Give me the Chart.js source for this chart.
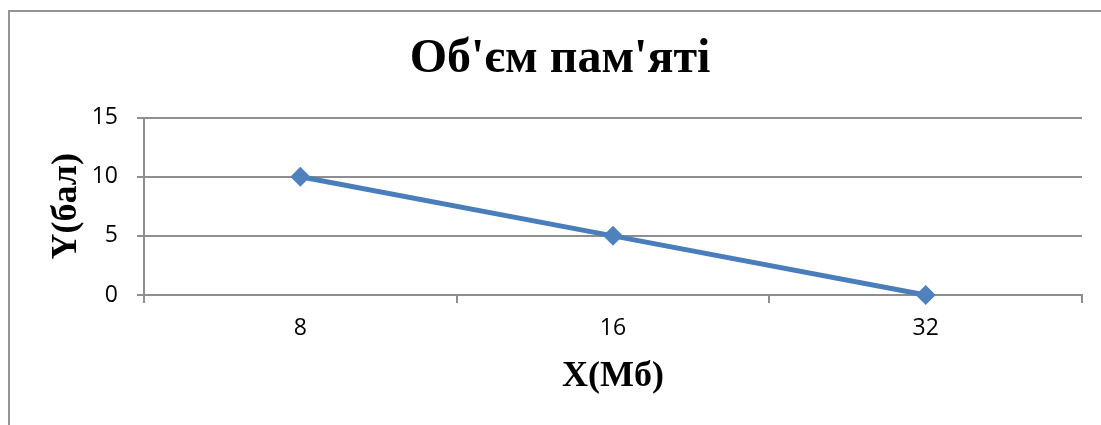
<!DOCTYPE html>
<html>
<head>
<meta charset="utf-8">
<script src="https://cdn.jsdelivr.net/npm/chart.js@4"></script>
<style>
  body { margin: 0; background: #fff; overflow: hidden; }
  #frame { position: absolute; left: 8px; top: 10px; width: 1200px; height: 500px;
           border-left: 2px solid #949494; border-top: 2px solid #949494; }
  #wrap { position: absolute; left: 0; top: 0; width: 1101px; height: 425px; }
</style>
</head>
<body>
<div id="frame"></div>
<div id="wrap"><canvas id="chart" width="1101" height="425"></canvas></div>
<script>
// chart data
const categories = ['8', '16', '32'];
const memoryScore = [10, 5, 0];
const yMin = 0;
const yMax = 15;
const yStep = 5;

const titleText = "Об'єм пам'яті";
const xTitle = 'X(Мб)';
const yTitle = 'Y(бал)';

document.addEventListener("DOMContentLoaded", function () {
    const ctx = document.getElementById('chart').getContext('2d');
    const gridColor = '#8e8e8e';
    const tickFont = { family: '"Open Sans", sans-serif', size: 23 };
    const serif = '"Liberation Serif", "Times New Roman", serif';

    new Chart(ctx, {
        type: 'line',
        data: {
            labels: categories,
            datasets: [{
                data: memoryScore,
                borderColor: '#4a7ebb',
                backgroundColor: '#4f81bd',
                borderWidth: 5,
                pointStyle: 'rectRot',
                pointRadius: 10,
                pointBorderWidth: 0,
                clip: false,
                tension: 0
            }]
        },
        options: {
            responsive: false,
            animation: false,
            // left padding only shifts the title centre to where the reference has it
            layout: { padding: { left: 38, right: 19, top: 0, bottom: 0 } },
            plugins: {
                legend: { display: false },
                tooltip: { enabled: false },
                title: {
                    display: true,
                    text: titleText,
                    color: '#000',
                    font: { family: serif, size: 48, weight: 'bold' },
                    padding: { top: 31, bottom: 29 }
                }
            },
            scales: {
                x: {
                    offset: true,
                    grid: { offset: true, drawOnChartArea: false, tickLength: 8, color: gridColor, lineWidth: 2 },
                    border: { color: gridColor, width: 2 },
                    ticks: { color: '#000', font: tickFont, padding: 12, maxRotation: 0 },
                    title: {
                        display: true,
                        text: xTitle,
                        color: '#000',
                        font: { family: serif, size: 36, weight: 'bold' },
                        padding: { top: 0, bottom: 27 }
                    },
                    afterFit: function (scale) { scale.height = 130; }
                },
                y: {
                    min: yMin,
                    max: yMax,
                    ticks: { stepSize: yStep, color: '#000', font: tickFont, padding: 19 },
                    grid: { color: gridColor, lineWidth: 2, tickLength: 7 },
                    border: { color: gridColor, width: 2 },
                    title: {
                        display: true,
                        text: yTitle,
                        color: '#000',
                        font: { family: serif, size: 36, weight: 'bold' },
                        padding: { top: 7, bottom: 0 }
                    },
                    afterFit: function (scale) { scale.width = 106; }
                }
            }
        }
    });
});
</script>
</body>
</html>
